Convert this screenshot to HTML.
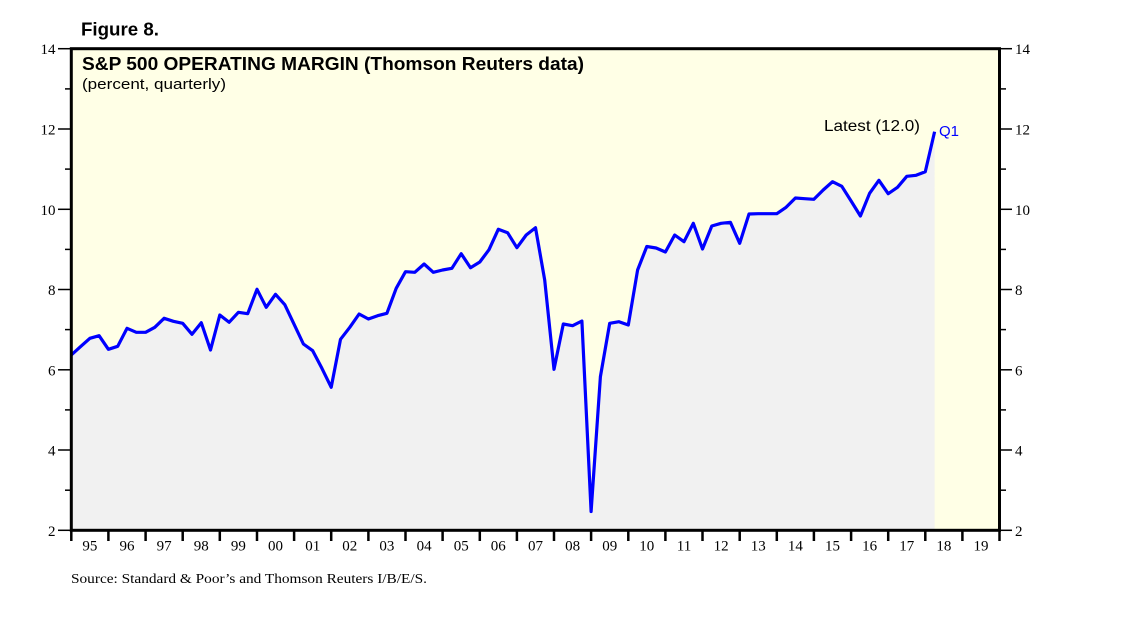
<!DOCTYPE html>
<html>
<head>
<meta charset="utf-8">
<style>
  html,body{margin:0;padding:0;background:#ffffff;}
  svg{display:block;}
</style>
</head>
<body>
<svg width="1138" height="621" viewBox="0 0 1138 621" xmlns="http://www.w3.org/2000/svg">
  <rect x="0" y="0" width="1138" height="621" fill="#ffffff"/>
  <!-- plot background -->
  <rect x="71.3" y="48.7" width="928.2" height="481.6" fill="#ffffe6"/>
  <!-- gray fill under series -->
  <polygon fill="#f1f1f1" points="71.3,530.3 71.3,355 80.6,346.6 89.9,338.3 99.1,335.7 108.4,349.3 117.7,346.3 127.0,328.3 136.3,332.3 145.6,332.3 154.8,327.3 164.1,318.3 173.4,321.3 182.7,323.3 192.0,334.3 201.3,322.7 210.5,350 219.8,315 229.1,322.3 238.4,312.3 247.7,313.7 257.0,289.3 266.2,307.3 275.5,294.3 284.8,304.7 294.1,324.3 303.4,344 312.7,350.7 321.9,368.3 331.2,387.3 340.5,339.3 349.8,327.3 359.1,314 368.4,319 377.6,315.7 386.9,313.3 396.2,288.3 405.5,271.7 414.8,272.3 424.1,264 433.3,272.3 442.6,270 451.9,268.3 461.2,253.7 470.5,267.7 479.8,262 489.0,249.7 498.3,229.3 507.6,232.7 516.9,247.7 526.2,235 535.5,227.7 544.7,280 554.0,369.3 563.3,324 572.6,325.7 581.9,321 591.1,511.5 600.4,376.7 609.7,323.3 619.0,321.7 628.3,325 637.6,270 646.8,246.5 656.1,248 665.4,252 674.7,235 684.0,241.7 693.3,223.3 702.5,249 711.8,226 721.1,223.3 730.4,222.3 739.7,243.3 749.0,214 758.2,213.7 767.5,213.7 776.8,213.7 786.1,207.3 795.4,198 804.7,198.7 813.9,199.3 823.2,190 832.5,181.7 841.8,186.3 851.1,201 860.4,216 869.6,193.3 878.9,180.3 888.2,193.7 897.5,187.3 906.8,176.3 916.1,175.3 925.3,171.7 934.6,131.7 934.6,530.3"/>
  <!-- series line -->
  <polyline fill="none" stroke="#0000ff" stroke-width="3.2" stroke-linejoin="round" points="71.3,355 80.6,346.6 89.9,338.3 99.1,335.7 108.4,349.3 117.7,346.3 127.0,328.3 136.3,332.3 145.6,332.3 154.8,327.3 164.1,318.3 173.4,321.3 182.7,323.3 192.0,334.3 201.3,322.7 210.5,350 219.8,315 229.1,322.3 238.4,312.3 247.7,313.7 257.0,289.3 266.2,307.3 275.5,294.3 284.8,304.7 294.1,324.3 303.4,344 312.7,350.7 321.9,368.3 331.2,387.3 340.5,339.3 349.8,327.3 359.1,314 368.4,319 377.6,315.7 386.9,313.3 396.2,288.3 405.5,271.7 414.8,272.3 424.1,264 433.3,272.3 442.6,270 451.9,268.3 461.2,253.7 470.5,267.7 479.8,262 489.0,249.7 498.3,229.3 507.6,232.7 516.9,247.7 526.2,235 535.5,227.7 544.7,280 554.0,369.3 563.3,324 572.6,325.7 581.9,321 591.1,511.5 600.4,376.7 609.7,323.3 619.0,321.7 628.3,325 637.6,270 646.8,246.5 656.1,248 665.4,252 674.7,235 684.0,241.7 693.3,223.3 702.5,249 711.8,226 721.1,223.3 730.4,222.3 739.7,243.3 749.0,214 758.2,213.7 767.5,213.7 776.8,213.7 786.1,207.3 795.4,198 804.7,198.7 813.9,199.3 823.2,190 832.5,181.7 841.8,186.3 851.1,201 860.4,216 869.6,193.3 878.9,180.3 888.2,193.7 897.5,187.3 906.8,176.3 916.1,175.3 925.3,171.7 934.6,131.7"/>
  <!-- frame -->
  <rect x="71.3" y="48.7" width="928.2" height="481.6" fill="none" stroke="#000" stroke-width="3"/>

  <!-- left y ticks -->
  <g stroke="#000" stroke-width="1.5">
    <line x1="58" y1="48.7" x2="71" y2="48.7"/>
    <line x1="65" y1="88.9" x2="71" y2="88.9"/>
    <line x1="58" y1="129.0" x2="71" y2="129.0"/>
    <line x1="65" y1="169.1" x2="71" y2="169.1"/>
    <line x1="58" y1="209.3" x2="71" y2="209.3"/>
    <line x1="65" y1="249.4" x2="71" y2="249.4"/>
    <line x1="58" y1="289.5" x2="71" y2="289.5"/>
    <line x1="65" y1="329.6" x2="71" y2="329.6"/>
    <line x1="58" y1="369.8" x2="71" y2="369.8"/>
    <line x1="65" y1="409.9" x2="71" y2="409.9"/>
    <line x1="58" y1="450.0" x2="71" y2="450.0"/>
    <line x1="65" y1="490.2" x2="71" y2="490.2"/>
    <line x1="58" y1="530.3" x2="71" y2="530.3"/>
    <!-- right -->
    <line x1="1000" y1="48.7" x2="1012" y2="48.7"/>
    <line x1="1000" y1="88.9" x2="1006" y2="88.9"/>
    <line x1="1000" y1="129.0" x2="1012" y2="129.0"/>
    <line x1="1000" y1="169.1" x2="1006" y2="169.1"/>
    <line x1="1000" y1="209.3" x2="1012" y2="209.3"/>
    <line x1="1000" y1="249.4" x2="1006" y2="249.4"/>
    <line x1="1000" y1="289.5" x2="1012" y2="289.5"/>
    <line x1="1000" y1="329.6" x2="1006" y2="329.6"/>
    <line x1="1000" y1="369.8" x2="1012" y2="369.8"/>
    <line x1="1000" y1="409.9" x2="1006" y2="409.9"/>
    <line x1="1000" y1="450.0" x2="1012" y2="450.0"/>
    <line x1="1000" y1="490.2" x2="1006" y2="490.2"/>
    <line x1="1000" y1="530.3" x2="1012" y2="530.3"/>
  </g>

  <!-- y labels -->
  <g font-family="'Liberation Serif', serif" font-size="15" fill="#000">
    <g text-anchor="end">
      <text x="55.5" y="54.2">14</text>
      <text x="55.5" y="134.5">12</text>
      <text x="55.5" y="214.8">10</text>
      <text x="55.5" y="295">8</text>
      <text x="55.5" y="375.3">6</text>
      <text x="55.5" y="455.5">4</text>
      <text x="55.5" y="535.8">2</text>
    </g>
    <g text-anchor="start">
      <text x="1015" y="54.2">14</text>
      <text x="1015" y="134.5">12</text>
      <text x="1015" y="214.8">10</text>
      <text x="1015" y="295">8</text>
      <text x="1015" y="375.3">6</text>
      <text x="1015" y="455.5">4</text>
      <text x="1015" y="535.8">2</text>
    </g>
  </g>

  <!-- x ticks -->
  <g stroke="#000" stroke-width="2.5">
    <line x1="71.3" y1="530" x2="71.3" y2="541"/>
    <line x1="108.4" y1="530" x2="108.4" y2="541"/>
    <line x1="145.6" y1="530" x2="145.6" y2="541"/>
    <line x1="182.7" y1="530" x2="182.7" y2="541"/>
    <line x1="219.8" y1="530" x2="219.8" y2="541"/>
    <line x1="257.0" y1="530" x2="257.0" y2="541"/>
    <line x1="294.1" y1="530" x2="294.1" y2="541"/>
    <line x1="331.2" y1="530" x2="331.2" y2="541"/>
    <line x1="368.4" y1="530" x2="368.4" y2="541"/>
    <line x1="405.5" y1="530" x2="405.5" y2="541"/>
    <line x1="442.6" y1="530" x2="442.6" y2="541"/>
    <line x1="479.8" y1="530" x2="479.8" y2="541"/>
    <line x1="516.9" y1="530" x2="516.9" y2="541"/>
    <line x1="554.0" y1="530" x2="554.0" y2="541"/>
    <line x1="591.1" y1="530" x2="591.1" y2="541"/>
    <line x1="628.3" y1="530" x2="628.3" y2="541"/>
    <line x1="665.4" y1="530" x2="665.4" y2="541"/>
    <line x1="702.5" y1="530" x2="702.5" y2="541"/>
    <line x1="739.7" y1="530" x2="739.7" y2="541"/>
    <line x1="776.8" y1="530" x2="776.8" y2="541"/>
    <line x1="813.9" y1="530" x2="813.9" y2="541"/>
    <line x1="851.1" y1="530" x2="851.1" y2="541"/>
    <line x1="888.2" y1="530" x2="888.2" y2="541"/>
    <line x1="925.3" y1="530" x2="925.3" y2="541"/>
    <line x1="962.4" y1="530" x2="962.4" y2="541"/>
    <line x1="999.5" y1="530" x2="999.5" y2="541"/>
  </g>

  <!-- x labels -->
  <g font-family="'Liberation Serif', serif" font-size="15" fill="#000" text-anchor="middle">
    <text x="89.9" y="550.5">95</text>
    <text x="127.0" y="550.5">96</text>
    <text x="164.1" y="550.5">97</text>
    <text x="201.3" y="550.5">98</text>
    <text x="238.4" y="550.5">99</text>
    <text x="275.5" y="550.5">00</text>
    <text x="312.7" y="550.5">01</text>
    <text x="349.8" y="550.5">02</text>
    <text x="386.9" y="550.5">03</text>
    <text x="424.1" y="550.5">04</text>
    <text x="461.2" y="550.5">05</text>
    <text x="498.3" y="550.5">06</text>
    <text x="535.5" y="550.5">07</text>
    <text x="572.6" y="550.5">08</text>
    <text x="609.7" y="550.5">09</text>
    <text x="646.8" y="550.5">10</text>
    <text x="684.0" y="550.5">11</text>
    <text x="721.1" y="550.5">12</text>
    <text x="758.2" y="550.5">13</text>
    <text x="795.4" y="550.5">14</text>
    <text x="832.5" y="550.5">15</text>
    <text x="869.6" y="550.5">16</text>
    <text x="906.8" y="550.5">17</text>
    <text x="943.9" y="550.5">18</text>
    <text x="981.0" y="550.5">19</text>
  </g>

  <!-- titles -->
  <text x="81" y="35.5" font-family="'Liberation Sans', sans-serif" font-size="18.5" font-weight="bold" fill="#000" textLength="78" lengthAdjust="spacingAndGlyphs">Figure 8.</text>
  <text x="82" y="70" font-family="'Liberation Sans', sans-serif" font-size="18" font-weight="bold" fill="#000" textLength="502" lengthAdjust="spacingAndGlyphs">S&amp;P 500 OPERATING MARGIN (Thomson Reuters data)</text>
  <text x="82" y="89" font-family="'Liberation Sans', sans-serif" font-size="15" fill="#000" textLength="144" lengthAdjust="spacingAndGlyphs">(percent, quarterly)</text>

  <!-- annotations -->
  <text x="824" y="131" font-family="'Liberation Sans', sans-serif" font-size="16" fill="#000" textLength="96" lengthAdjust="spacingAndGlyphs">Latest (12.0)</text>
  <text x="939" y="136" font-family="'Liberation Sans', sans-serif" font-size="15" fill="#0000ff">Q1</text>

  <!-- source -->
  <text x="71" y="583" font-family="'Liberation Serif', serif" font-size="14" fill="#000" textLength="356" lengthAdjust="spacingAndGlyphs">Source: Standard &amp; Poor’s and Thomson Reuters I/B/E/S.</text>
</svg>
</body>
</html>
